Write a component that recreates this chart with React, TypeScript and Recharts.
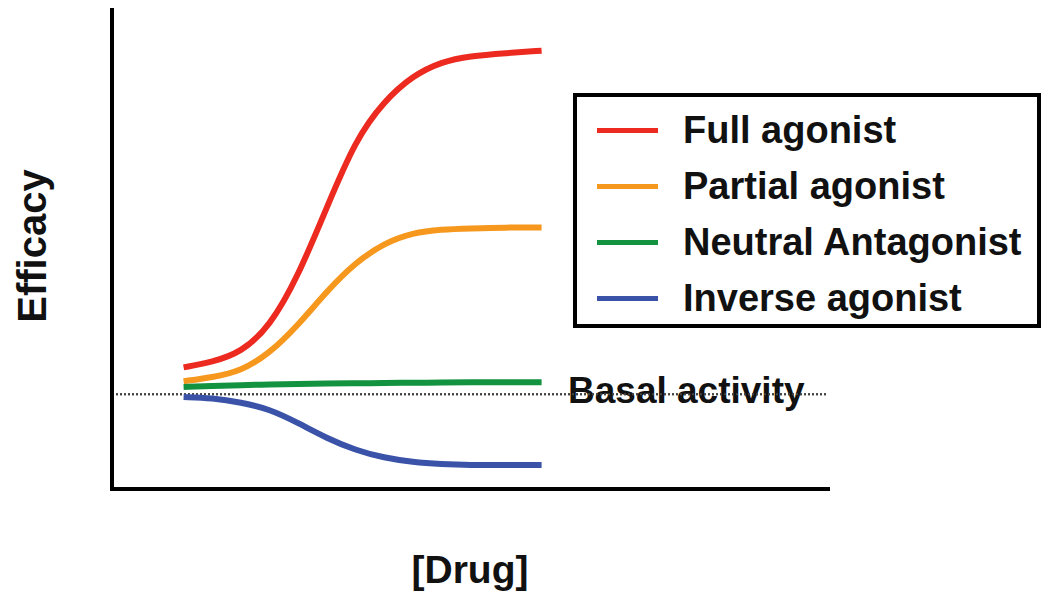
import { LineChart, Line, XAxis, YAxis, ReferenceLine, Label } from 'recharts'

// log [drug] positions (0-100 along the x axis)
const doses = [10, 14, 18, 22, 26, 30, 34, 38, 42, 46, 50, 55, 60]

// efficacy (0-100 of the y axis)
const fullAgonist = [25.4, 26.5, 28.5, 33.8, 44.4, 58.8, 72.9, 81.0, 86.3, 89.2, 90.4, 91.0, 91.5]
const partialAgonist = [22.5, 23.3, 24.6, 28.3, 34.2, 41.3, 47.3, 51.3, 53.5, 54.2, 54.4, 54.6, 54.6]
const neutralAntagonist = [21.3, 21.5, 21.7, 21.8, 21.9, 22.0, 22.1, 22.1, 22.2, 22.2, 22.3, 22.3, 22.3]
const inverseAgonist = [19.2, 19.0, 18.1, 16.7, 13.8, 10.6, 8.1, 6.5, 5.6, 5.2, 5.0, 5.0, 5.0]

const basalActivity = 19.8

const seriesOptions = [
  { key: 'full', label: 'Full agonist', color: '#ec2a1f' },
  { key: 'partial', label: 'Partial agonist', color: '#f7981e' },
  { key: 'neutral', label: 'Neutral Antagonist', color: '#13923f' },
  { key: 'inverse', label: 'Inverse agonist', color: '#3a53a8' },
]

const chartData = doses.map((x, i) => ({
  x,
  full: fullAgonist[i],
  partial: partialAgonist[i],
  neutral: neutralAntagonist[i],
  inverse: inverseAgonist[i],
}))

const FONT = '"Liberation Sans", Arial, sans-serif'

// legend box drawn next to the chart, same series config as the lines
function LegendBox() {
  return (
    <div
      style={{
        position: 'absolute',
        left: 573,
        top: 93,
        width: 468,
        height: 235,
        boxSizing: 'border-box',
        border: '4px solid #000',
        background: '#fff',
        paddingTop: 5,
        paddingLeft: 20,
      }}
    >
      {seriesOptions.map((s) => (
        <div key={s.key} style={{ display: 'flex', alignItems: 'center', height: 56 }}>
          <div style={{ width: 61, height: 5, background: s.color, marginRight: 25 }} />
          <span style={{ fontFamily: FONT, fontWeight: 'bold', fontSize: 38, color: '#111', lineHeight: '56px' }}>
            {s.label}
          </span>
        </div>
      ))}
    </div>
  )
}

export default function App() {
  return (
    <div style={{ position: 'absolute', left: 0, top: 0, width: 1050, height: 596, background: '#fff', fontFamily: FONT }}>
      <LineChart
        width={1050}
        height={596}
        data={chartData}
        margin={{ top: 10, right: 222, left: 52, bottom: 77 }}
      >
        <XAxis
          type="number"
          dataKey="x"
          domain={[0, 100]}
          tick={false}
          tickLine={false}
          height={30}
          axisLine={{ stroke: '#000', strokeWidth: 4, strokeLinecap: 'square' }}
        >
          <Label
            content={() => (
              <text x={470} y={583} textAnchor="middle" fontFamily={FONT} fontWeight="bold" fontSize={39} fill="#111">
                [Drug]
              </text>
            )}
          />
        </XAxis>
        <YAxis
          type="number"
          domain={[0, 100]}
          tick={false}
          tickLine={false}
          width={60}
          axisLine={{ stroke: '#000', strokeWidth: 4, strokeLinecap: 'square' }}
        >
          <Label
            content={() => (
              <text
                x={0}
                y={0}
                transform="translate(46 246) rotate(-90)"
                textAnchor="middle"
                fontFamily={FONT}
                fontWeight="bold"
                fontSize={40}
                fill="#111"
              >
                Efficacy
              </text>
            )}
          />
        </YAxis>
        <ReferenceLine
          y={basalActivity}
          stroke="#444"
          strokeWidth={2}
          strokeDasharray="2 2"
          label={{
            content: () => (
              <text x={568} y={403} fontFamily={FONT} fontWeight="bold" fontSize={37} fill="#111">
                Basal activity
              </text>
            ),
          }}
        />
        <ReferenceLine y={basalActivity} stroke="#444" strokeWidth={2} strokeDasharray="2 2" />
        {seriesOptions.map((s) => (
          <Line
            key={s.key}
            type="basis"
            dataKey={s.key}
            name={s.label}
            stroke={s.color}
            strokeWidth={6}
            dot={false}
            activeDot={false}
            isAnimationActive={false}
          />
        ))}
      </LineChart>
      <LegendBox />
    </div>
  )
}
